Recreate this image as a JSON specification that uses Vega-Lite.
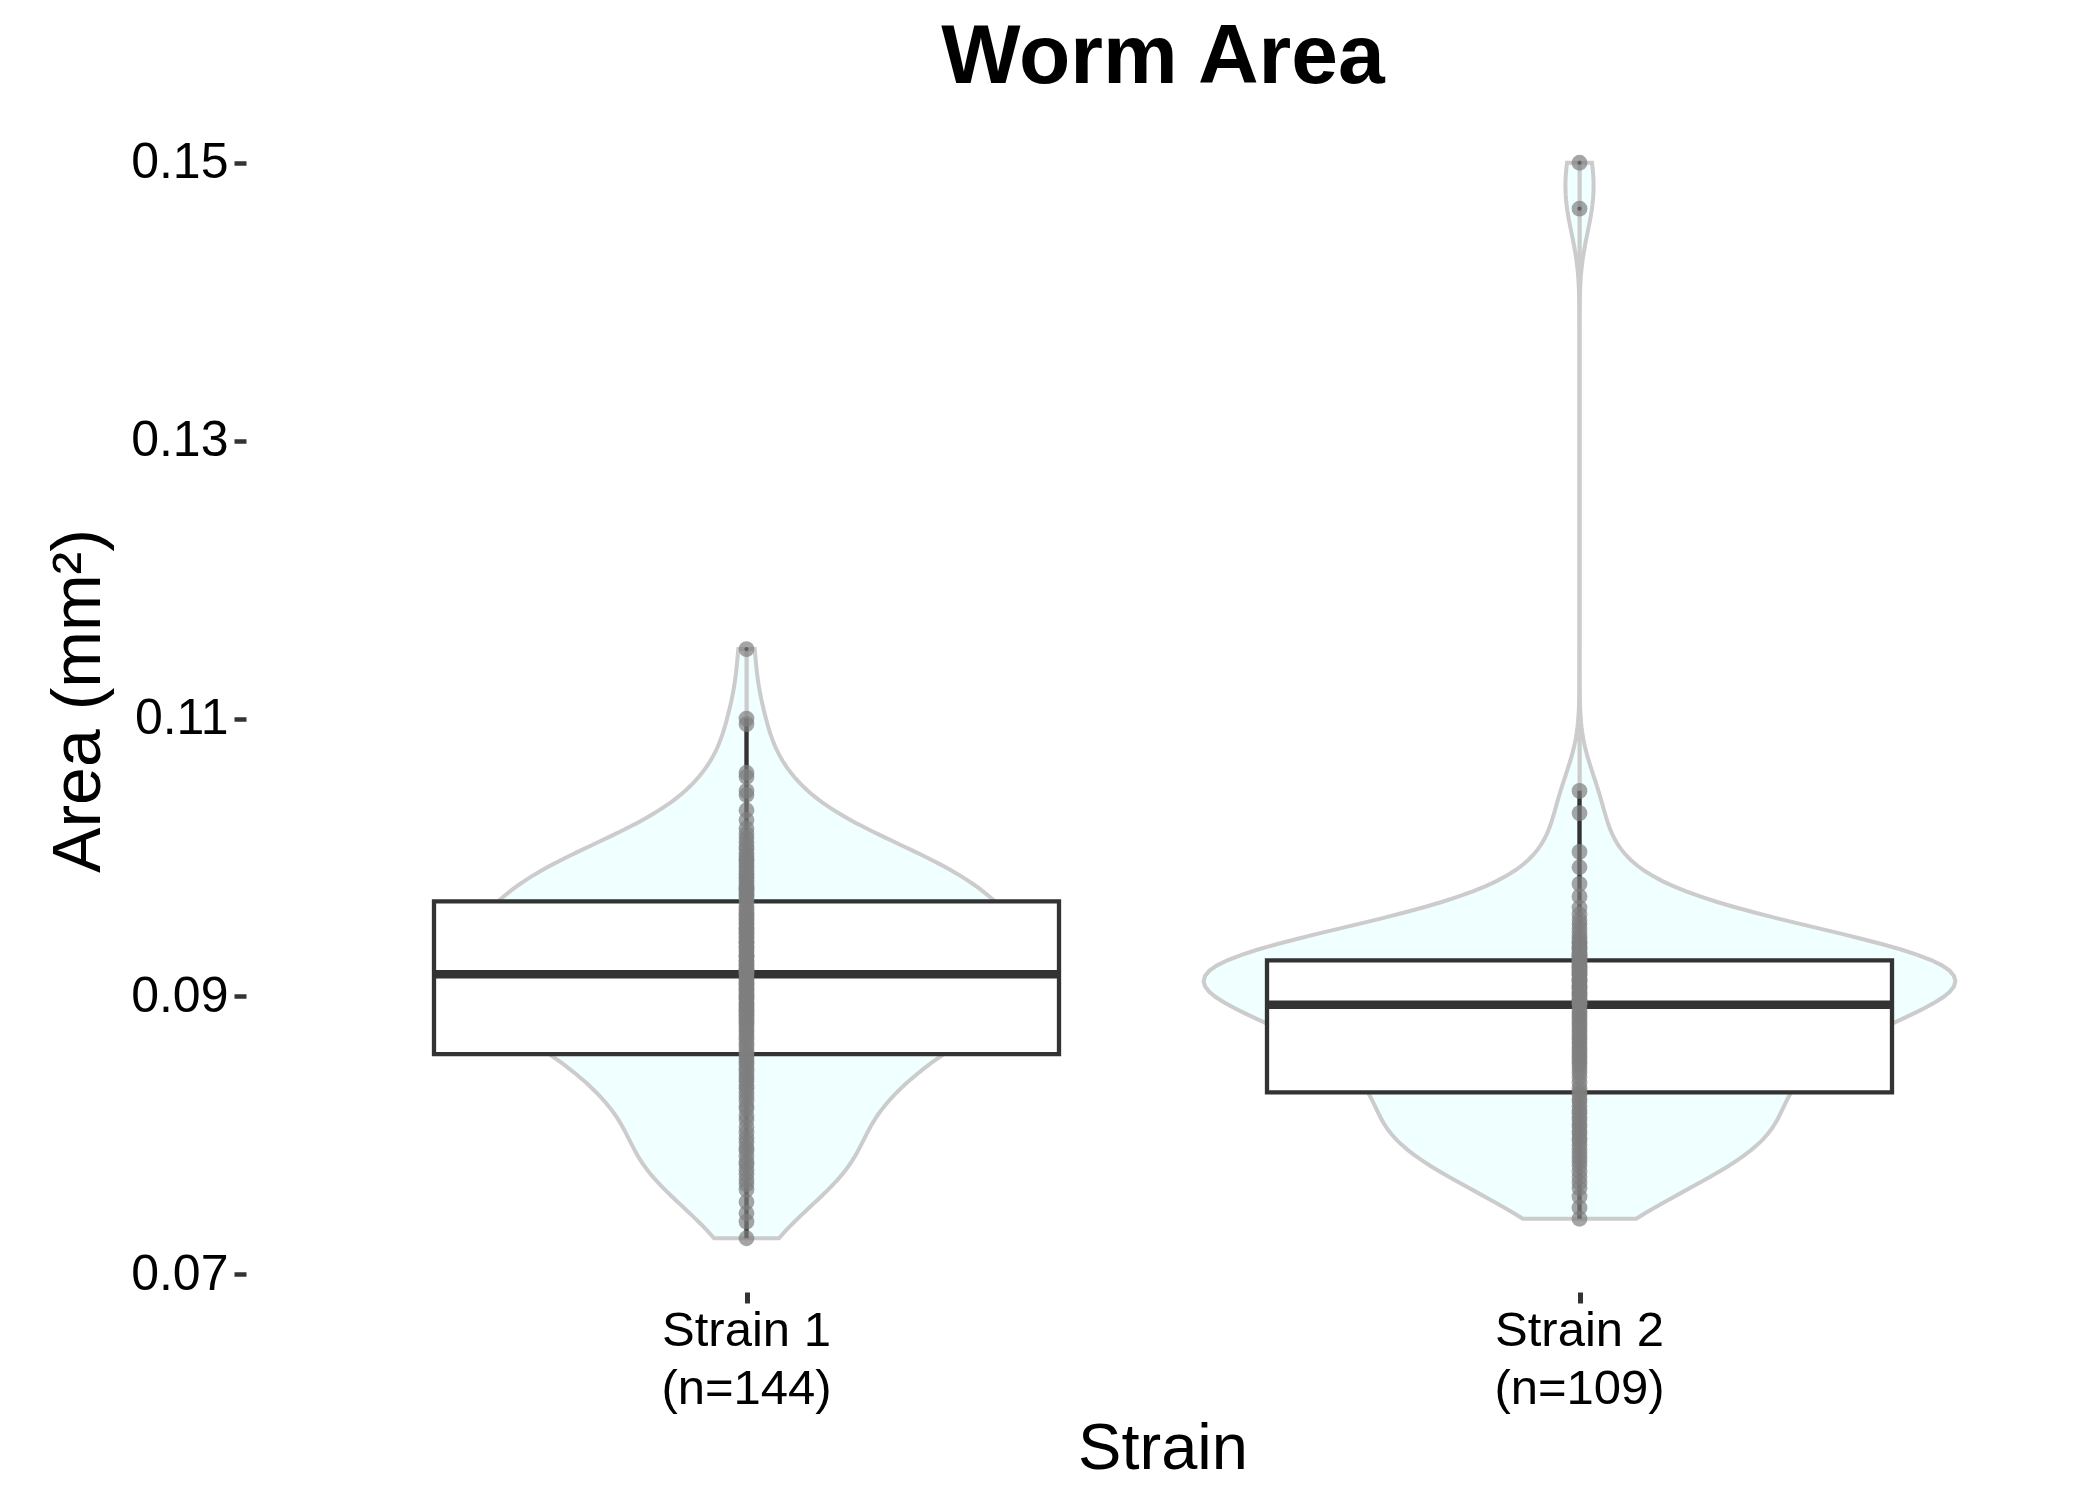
{
  "$schema": "https://vega.github.io/schema/vega-lite/v6.json",
  "autosize": {"type": "none"},
  "padding": {"left": 330, "top": 109, "right": 1770, "bottom": 1391},
  "background": "white",
  "title": {"text": "Worm Area", "fontSize": 84, "fontWeight": "bold", "font": "Liberation Sans", "color": "black", "anchor": "middle", "frame": "group", "offset": 8, "dx": 833},
  "data": {"values": [
    {"s":"Strain 1","a":0.0726},{"s":"Strain 1","a":0.0738},{"s":"Strain 1","a":0.0744},{"s":"Strain 1","a":0.0752},{"s":"Strain 1","a":0.0761},{"s":"Strain 1","a":0.0765},{"s":"Strain 1","a":0.0768},{"s":"Strain 1","a":0.0772},{"s":"Strain 1","a":0.0775},{"s":"Strain 1","a":0.0779},{"s":"Strain 1","a":0.0781},{"s":"Strain 1","a":0.0785},{"s":"Strain 1","a":0.0789},{"s":"Strain 1","a":0.0791},{"s":"Strain 1","a":0.0795},{"s":"Strain 1","a":0.0798},{"s":"Strain 1","a":0.0802},{"s":"Strain 1","a":0.0806},{"s":"Strain 1","a":0.0811},{"s":"Strain 1","a":0.0814},{"s":"Strain 1","a":0.0819},
    {"s":"Strain 1","a":0.0821},{"s":"Strain 1","a":0.0825},{"s":"Strain 1","a":0.0828},{"s":"Strain 1","a":0.0831},{"s":"Strain 1","a":0.0834},{"s":"Strain 1","a":0.0836},{"s":"Strain 1","a":0.0839},{"s":"Strain 1","a":0.0841},{"s":"Strain 1","a":0.0843},{"s":"Strain 1","a":0.0846},{"s":"Strain 1","a":0.0848},
    {"s":"Strain 1","a":0.0851},{"s":"Strain 1","a":0.0853},{"s":"Strain 1","a":0.0855},{"s":"Strain 1","a":0.0857},{"s":"Strain 1","a":0.0859},
    {"s":"Strain 1","a":0.0861},{"s":"Strain 1","a":0.0864},{"s":"Strain 1","a":0.0866},{"s":"Strain 1","a":0.0869},
    {"s":"Strain 1","a":0.0871},{"s":"Strain 1","a":0.0873},{"s":"Strain 1","a":0.0875},{"s":"Strain 1","a":0.0877},{"s":"Strain 1","a":0.0879},
    {"s":"Strain 1","a":0.0881},{"s":"Strain 1","a":0.0882},{"s":"Strain 1","a":0.0884},{"s":"Strain 1","a":0.0886},{"s":"Strain 1","a":0.0887},{"s":"Strain 1","a":0.0889},
    {"s":"Strain 1","a":0.0890},{"s":"Strain 1","a":0.0891},{"s":"Strain 1","a":0.0892},{"s":"Strain 1","a":0.0894},{"s":"Strain 1","a":0.0895},{"s":"Strain 1","a":0.0896},{"s":"Strain 1","a":0.0898},{"s":"Strain 1","a":0.0899},
    {"s":"Strain 1","a":0.0900},{"s":"Strain 1","a":0.0901},{"s":"Strain 1","a":0.0902},{"s":"Strain 1","a":0.0904},{"s":"Strain 1","a":0.0905},{"s":"Strain 1","a":0.0906},{"s":"Strain 1","a":0.0908},{"s":"Strain 1","a":0.0909},
    {"s":"Strain 1","a":0.0910},{"s":"Strain 1","a":0.0912},{"s":"Strain 1","a":0.0913},{"s":"Strain 1","a":0.0915},{"s":"Strain 1","a":0.0917},{"s":"Strain 1","a":0.0918},{"s":"Strain 1","a":0.0919},{"s":"Strain 1","a":0.0919},
    {"s":"Strain 1","a":0.0920},{"s":"Strain 1","a":0.0922},{"s":"Strain 1","a":0.0923},{"s":"Strain 1","a":0.0925},{"s":"Strain 1","a":0.0926},{"s":"Strain 1","a":0.0928},{"s":"Strain 1","a":0.0929},{"s":"Strain 1","a":0.0930},{"s":"Strain 1","a":0.0932},{"s":"Strain 1","a":0.0933},{"s":"Strain 1","a":0.0935},{"s":"Strain 1","a":0.0936},{"s":"Strain 1","a":0.0938},{"s":"Strain 1","a":0.0939},
    {"s":"Strain 1","a":0.0940},{"s":"Strain 1","a":0.0942},{"s":"Strain 1","a":0.0943},{"s":"Strain 1","a":0.0945},{"s":"Strain 1","a":0.0946},{"s":"Strain 1","a":0.0948},{"s":"Strain 1","a":0.0949},{"s":"Strain 1","a":0.0950},{"s":"Strain 1","a":0.0952},{"s":"Strain 1","a":0.0953},{"s":"Strain 1","a":0.0955},{"s":"Strain 1","a":0.0956},{"s":"Strain 1","a":0.0958},{"s":"Strain 1","a":0.0959},
    {"s":"Strain 1","a":0.0961},{"s":"Strain 1","a":0.0963},{"s":"Strain 1","a":0.0965},{"s":"Strain 1","a":0.0968},{"s":"Strain 1","a":0.0970},{"s":"Strain 1","a":0.0972},{"s":"Strain 1","a":0.0973},{"s":"Strain 1","a":0.0974},{"s":"Strain 1","a":0.0976},{"s":"Strain 1","a":0.0977},{"s":"Strain 1","a":0.0978},{"s":"Strain 1","a":0.0979},
    {"s":"Strain 1","a":0.0981},{"s":"Strain 1","a":0.0983},{"s":"Strain 1","a":0.0985},{"s":"Strain 1","a":0.0986},{"s":"Strain 1","a":0.0988},{"s":"Strain 1","a":0.0990},{"s":"Strain 1","a":0.0992},{"s":"Strain 1","a":0.0994},{"s":"Strain 1","a":0.0996},{"s":"Strain 1","a":0.0998},{"s":"Strain 1","a":0.0999},
    {"s":"Strain 1","a":0.1001},{"s":"Strain 1","a":0.1003},{"s":"Strain 1","a":0.1006},{"s":"Strain 1","a":0.1008},{"s":"Strain 1","a":0.1011},{"s":"Strain 1","a":0.1014},{"s":"Strain 1","a":0.1017},{"s":"Strain 1","a":0.1021},{"s":"Strain 1","a":0.1027},{"s":"Strain 1","a":0.1034},{"s":"Strain 1","a":0.1045},{"s":"Strain 1","a":0.1048},{"s":"Strain 1","a":0.1058},{"s":"Strain 1","a":0.1061},{"s":"Strain 1","a":0.1096},{"s":"Strain 1","a":0.1100},{"s":"Strain 1","a":0.1150},
    {"s":"Strain 2","a":0.0740},{"s":"Strain 2","a":0.0748},{"s":"Strain 2","a":0.0756},{"s":"Strain 2","a":0.0762},{"s":"Strain 2","a":0.0766},{"s":"Strain 2","a":0.0770},{"s":"Strain 2","a":0.0774},{"s":"Strain 2","a":0.0778},{"s":"Strain 2","a":0.0781},{"s":"Strain 2","a":0.0784},{"s":"Strain 2","a":0.0787},{"s":"Strain 2","a":0.0790},{"s":"Strain 2","a":0.0793},{"s":"Strain 2","a":0.0796},{"s":"Strain 2","a":0.0798},
    {"s":"Strain 2","a":0.0801},{"s":"Strain 2","a":0.0803},{"s":"Strain 2","a":0.0806},{"s":"Strain 2","a":0.0808},{"s":"Strain 2","a":0.0811},{"s":"Strain 2","a":0.0813},{"s":"Strain 2","a":0.0816},{"s":"Strain 2","a":0.0818},{"s":"Strain 2","a":0.0821},{"s":"Strain 2","a":0.0824},{"s":"Strain 2","a":0.0826},{"s":"Strain 2","a":0.0829},{"s":"Strain 2","a":0.0831},
    {"s":"Strain 2","a":0.0834},{"s":"Strain 2","a":0.0838},{"s":"Strain 2","a":0.0842},{"s":"Strain 2","a":0.0845},{"s":"Strain 2","a":0.0848},
    {"s":"Strain 2","a":0.0851},{"s":"Strain 2","a":0.0853},{"s":"Strain 2","a":0.0855},{"s":"Strain 2","a":0.0857},{"s":"Strain 2","a":0.0859},{"s":"Strain 2","a":0.0861},{"s":"Strain 2","a":0.0863},{"s":"Strain 2","a":0.0865},{"s":"Strain 2","a":0.0867},{"s":"Strain 2","a":0.0869},{"s":"Strain 2","a":0.0871},{"s":"Strain 2","a":0.0873},{"s":"Strain 2","a":0.0875},{"s":"Strain 2","a":0.0877},{"s":"Strain 2","a":0.0879},{"s":"Strain 2","a":0.0881},{"s":"Strain 2","a":0.0883},{"s":"Strain 2","a":0.0885},{"s":"Strain 2","a":0.0887},{"s":"Strain 2","a":0.0889},{"s":"Strain 2","a":0.0891},{"s":"Strain 2","a":0.0894},
    {"s":"Strain 2","a":0.0895},{"s":"Strain 2","a":0.0896},{"s":"Strain 2","a":0.0897},{"s":"Strain 2","a":0.0898},{"s":"Strain 2","a":0.0900},{"s":"Strain 2","a":0.0901},{"s":"Strain 2","a":0.0902},{"s":"Strain 2","a":0.0903},{"s":"Strain 2","a":0.0905},{"s":"Strain 2","a":0.0906},{"s":"Strain 2","a":0.0907},{"s":"Strain 2","a":0.0908},{"s":"Strain 2","a":0.0910},{"s":"Strain 2","a":0.0911},{"s":"Strain 2","a":0.0912},{"s":"Strain 2","a":0.0913},{"s":"Strain 2","a":0.0915},{"s":"Strain 2","a":0.0916},{"s":"Strain 2","a":0.0917},{"s":"Strain 2","a":0.0918},{"s":"Strain 2","a":0.0919},{"s":"Strain 2","a":0.0920},{"s":"Strain 2","a":0.0921},{"s":"Strain 2","a":0.0922},{"s":"Strain 2","a":0.0923},{"s":"Strain 2","a":0.0925},{"s":"Strain 2","a":0.0926},
    {"s":"Strain 2","a":0.0927},{"s":"Strain 2","a":0.0928},{"s":"Strain 2","a":0.0929},{"s":"Strain 2","a":0.0930},{"s":"Strain 2","a":0.0931},{"s":"Strain 2","a":0.0932},{"s":"Strain 2","a":0.0934},{"s":"Strain 2","a":0.0935},{"s":"Strain 2","a":0.0936},{"s":"Strain 2","a":0.0938},{"s":"Strain 2","a":0.0939},{"s":"Strain 2","a":0.0941},{"s":"Strain 2","a":0.0943},
    {"s":"Strain 2","a":0.0946},{"s":"Strain 2","a":0.0949},{"s":"Strain 2","a":0.0952},{"s":"Strain 2","a":0.0955},{"s":"Strain 2","a":0.0959},{"s":"Strain 2","a":0.0964},{"s":"Strain 2","a":0.0972},{"s":"Strain 2","a":0.0981},{"s":"Strain 2","a":0.0993},{"s":"Strain 2","a":0.1004},{"s":"Strain 2","a":0.1032},{"s":"Strain 2","a":0.1048},{"s":"Strain 2","a":0.1467},{"s":"Strain 2","a":0.1500}
  ]},
  "facet": {
    "column": {
      "field": "s", "type": "nominal", "title": "Strain",
      "header": {
        "labelOrient": "bottom", "titleOrient": "bottom",
        "labelFont": "Liberation Sans", "labelFontSize": 49, "labelColor": "black",
        "labelExpr": "[datum.value, datum.value == 'Strain 1' ? '(n=144)' : '(n=109)']",
        "labelLineHeight": 58, "labelPadding": 1,
        "titleFont": "Liberation Sans", "titleFontSize": 65, "titleFontWeight": "normal", "titleColor": "black", "titlePadding": -6
      }
    }
  },
  "spacing": 0,
  "resolve": {"scale": {"x": "independent"}, "axis": {"x": "independent"}},
  "spec": {
    "width": 833,
    "height": 1183,
    "resolve": {"scale": {"x": "independent"}, "axis": {"x": "independent"}},
    "layer": [
      {
        "transform": [{"density": "a", "groupby": ["s"], "bandwidth": 0.0025, "steps": 200, "resolve": "independent", "as": ["value", "density"]}],
        "mark": {"type": "area", "orient": "horizontal", "fill": "#F0FFFF", "stroke": "#CCCCCC", "strokeWidth": 4},
        "encoding": {
          "y": {"field": "value", "type": "quantitative", "title": "Area (mm²)",
                "scale": {"domain": [0.06873, 0.15387], "nice": false, "zero": false},
                "axis": {"values": [0.07, 0.09, 0.11, 0.13, 0.15], "format": ".2f", "offset": 84}},
          "x": {"field": "density", "type": "quantitative", "stack": null, "title": null,
                "scale": {"domain": [-69.6, 69.6], "nice": false, "zero": false},
                "axis": {"values": [0], "labels": false, "domain": false, "grid": false, "ticks": true, "tickSize": 11, "tickWidth": 5, "tickColor": "#333333", "title": null}},
          "x2": {"datum": 0}
        }
      },
      {
        "transform": [{"density": "a", "groupby": ["s"], "bandwidth": 0.0025, "steps": 200, "resolve": "independent", "as": ["value", "density"]}],
        "mark": {"type": "area", "orient": "horizontal", "fill": "#F0FFFF", "stroke": "#CCCCCC", "strokeWidth": 4},
        "encoding": {
          "y": {"field": "value", "type": "quantitative", "title": "Area (mm²)",
                "scale": {"domain": [0.06873, 0.15387], "nice": false, "zero": false}},
          "x": {"field": "density", "type": "quantitative", "stack": null, "title": null,
                "scale": {"domain": [-69.6, 69.6], "nice": false, "zero": false, "reverse": true},
                "axis": null},
          "x2": {"datum": 0}
        }
      },
      {
        "mark": {"type": "boxplot", "extent": 1.5, "size": 625,
                 "box": {"fill": "white", "stroke": "#333333", "strokeWidth": 4.3},
                 "median": {"color": "#333333", "thickness": 8.5, "opacity": 1},
                 "rule": {"color": "#333333", "strokeWidth": 4.3},
                 "outliers": {"color": "#1a1a1a", "size": 18, "filled": true, "opacity": 1}},
        "encoding": {
          "y": {"field": "a", "type": "quantitative", "title": "Area (mm²)",
                "scale": {"domain": [0.06873, 0.15387], "nice": false, "zero": false}}
        }
      },
      {
        "mark": {"type": "point", "filled": true, "color": "#7f7f7f", "opacity": 0.7, "size": 250, "strokeWidth": 0},
        "encoding": {
          "y": {"field": "a", "type": "quantitative", "title": "Area (mm²)",
                "scale": {"domain": [0.06873, 0.15387], "nice": false, "zero": false}}
        }
      }
    ]
  },
  "config": {
    "font": "Liberation Sans",
    "view": {"stroke": null},
    "axis": {"grid": false},
    "axisY": {"domain": false, "ticks": true, "tickSize": 12, "tickWidth": 4.5, "tickColor": "#333333",
              "labelFontSize": 50, "labelColor": "black", "labelPadding": 6, "labelFont": "Liberation Sans",
              "titleFontSize": 68, "titleFontWeight": "normal", "titleColor": "black", "titlePadding": 17, "titleFont": "Liberation Sans"}
  }
}
